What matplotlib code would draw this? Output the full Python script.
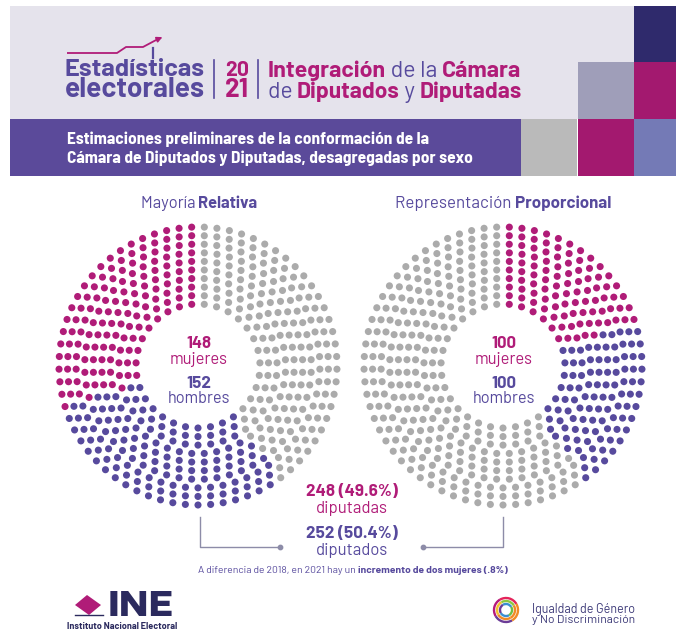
import numpy as np
import matplotlib
matplotlib.use("Agg")
import matplotlib.pyplot as plt
from matplotlib import patches

# ---- data ----
total_seats = 500
mr_groups = ["mujeres", "hombres"]
mr_seats = [148, 152]
rp_groups = ["mujeres", "hombres"]
rp_seats = [100, 100]
total_labels = ["diputadas", "diputados"]
total_values = [248, 252]
total_pct = [49.6, 50.4]

PINK = "#B01C78"
PURPLE = "#574A9D"
GREY = "#ABABAB"
HEADER_BG = "#E5E3EC"
BAND = "#5B4A9A"
NAVY = "#2B2A5E"

plt.rcParams["font.family"] = ["Barlow", "Roboto", "DejaVu Sans"]

fig = plt.figure(figsize=(6.76, 6.31), dpi=100)
ax = fig.add_axes([0, 0, 1, 1])
ax.set_xlim(0, 676)
ax.set_ylim(631, 0)
ax.axis("off")
renderer = fig.canvas.get_renderer()


def fit(x, y, parts, width, ha="left", family=None):
    # parts: (text, color, weight); font size chosen so the line is `width` px wide
    kw = {} if family is None else {"family": family}
    texts = [ax.text(0, y, s, fontsize=10, color=c, fontweight=w, va="baseline", **kw)
             for s, c, w in parts]
    size = 10 * width / sum(t.get_window_extent(renderer).width for t in texts)
    for t in texts:
        t.set_fontsize(size)
    widths = [t.get_window_extent(renderer).width for t in texts]
    x0 = x - sum(widths) / 2 if ha == "center" else x
    for t, w in zip(texts, widths):
        t.set_x(x0)
        x0 += w
    return size


# ---- header ----
ax.add_patch(patches.Rectangle((10, 6), 624, 113, color=HEADER_BG, lw=0))
ax.add_patch(patches.Rectangle((10, 119), 511, 57, color=BAND, lw=0))
squares = [
    (634, 6, "#2F2A6C"), (578, 62, "#9F9EB9"), (634, 62, "#A3196F"),
    (521, 119, "#BABABA"), (578, 119, "#A3196F"), (634, 119, "#747AB6"),
]
for x, y, c in squares:
    ax.add_patch(patches.Rectangle((x, y), 56 if x < 634 else 42, 57, color=c, lw=0))

# little trend arrow of the logo
ax.plot([67, 117, 126, 143, 158], [53, 53, 47, 47, 39], color=PINK, lw=1.3, solid_capstyle="butt")
ax.annotate("", xy=(165, 36), xytext=(156, 40),
            arrowprops=dict(arrowstyle="-|>", color=PINK, lw=1.2, mutation_scale=8))
ax.plot([153, 153], [48, 58], color=PURPLE, lw=1.6)
fit(65, 76, [("Estadísticas", PURPLE, "bold")], 140)
fit(65, 97, [("electorales", PURPLE, "bold")], 140)
ax.plot([214, 214], [60, 98], color=PURPLE, lw=1.2)
ax.plot([258, 258], [60, 98], color=PURPLE, lw=1.2)
fit(237, 76, [("20", PINK, "bold")], 24, ha="center")
fit(237, 97, [("21", PINK, "bold")], 24, ha="center")
fit(268, 77, [("Integración", PINK, "bold"), (" de la ", PURPLE, "normal"), ("Cámara", PINK, "bold")], 253)
fit(268, 98, [("de ", PURPLE, "normal"), ("Diputados", PINK, "bold"), (" y ", PURPLE, "normal"),
              ("Diputadas", PINK, "bold")], 253)
band_font = ["Barlow Semi Condensed", "Roboto", "DejaVu Sans"]
fit(67, 144, [("Estimaciones preliminares de la conformación de la", "white", "bold")], 360,
    family=band_font)
fit(67, 163, [("Cámara de Diputados y Diputadas, desagregadas por sexo", "white", "bold")], 406,
    family=band_font)

# ---- seat circles ----
radii = np.linspace(62, 139, 10)
share = total_seats * radii / radii.sum()
counts = np.floor(share).astype(int)
rest = total_seats - counts.sum()
counts[np.argsort(-(share - counts))[:rest]] += 1


def seats(cx, cy, values, direction):
    ang, rad = [], []
    for r, n in zip(radii, counts):
        ang.append((np.arange(n) + 0.5) * 2 * np.pi / n)
        rad.append(np.full(n, r))
    ang = np.concatenate(ang)
    rad = np.concatenate(rad)
    order = np.argsort(ang, kind="stable")
    ang, rad = ang[order], rad[order]
    colors = np.array([GREY] * total_seats, dtype=object)
    start = 0
    for v, c in zip(values, [PINK, PURPLE]):
        colors[start:start + v] = c
        start += v
    x = cx + direction * rad * np.sin(ang)
    y = cy - rad * np.cos(ang)
    ax.scatter(x, y, s=26, c=list(colors), linewidths=0)


seats(198, 366, mr_seats, -1)
seats(503, 366, rp_seats, 1)

fit(199, 208, [("Mayoría ", PURPLE, "normal"), ("Relativa", PURPLE, "bold")], 118, ha="center")
fit(503, 208, [("Representación ", PURPLE, "normal"), ("Proporcional", PURPLE, "bold")], 215, ha="center")

for cx, vals, groups in [(199, mr_seats, mr_groups), (504, rp_seats, rp_groups)]:
    fit(cx, 348, [(str(vals[0]), PINK, "bold")], 25, ha="center")
    fit(cx, 364, [(groups[0], PINK, "normal")], 58, ha="center")
    fit(cx, 388, [(str(vals[1]), PURPLE, "bold")], 25, ha="center")
    fit(cx, 403, [(groups[1], PURPLE, "normal")], 63, ha="center")

# ---- totals ----
for i, (y, c) in enumerate([(496, PINK), (538, PURPLE)]):
    fit(352, y, [(f"{total_values[i]}\u2009({total_pct[i]}%)", c, "bold")], 92, ha="center")
    fit(352, y + 17, [(total_labels[i], c, "normal")], 72, ha="center")

LINE = "#8D8CA8"
ax.plot([200, 200, 280], [517, 547, 547], color=LINE, lw=1)
ax.plot([503, 503, 423], [517, 547, 547], color=LINE, lw=1)
ax.scatter([280, 423], [547, 547], s=10, color=LINE, zorder=3)

fit(353, 573, [("A diferencia de 2018, en 2021 hay un ", PURPLE, "normal"),
               ("incremento de dos mujeres (.8%)", PURPLE, "bold")], 310, ha="center")

# ---- logos ----
ax.add_patch(patches.Polygon([[87, 595], [101, 605], [89, 615], [75, 605]], color=PINK, lw=0))
ax.plot([75, 103], [615, 615], color=NAVY, lw=1.0)
fit(108, 616, [("INE", NAVY, "heavy")], 66, family=["Encode Sans Expanded", "DejaVu Sans"])
fit(67, 629, [("Instituto Nacional Electoral", NAVY, "bold")], 110)

rings = [(12, ["#6B3C97", "#B5197C", "#E4245B", "#F08A24"]),
         (9, ["#F08A24", "#F2C12E", "#8DC63F", "#F08A24"]),
         (6, ["#3A8FD1", "#6B3C97", "#3A8FD1", "#6DBE45"])]
for rr, cols in rings:
    for j, c in enumerate(cols):
        ax.add_patch(patches.Arc((506, 610), 2 * rr, 2 * rr, theta1=60 + j * 90,
                                 theta2=60 + (j + 1) * 90, color=c, lw=1.7))
fit(532, 613, [("Igualdad de Género", "#3D3A78", "normal")], 103)
fit(532, 623, [("y No Discriminación", "#3D3A78", "normal")], 103)

fig.savefig("out.png", dpi=100)
